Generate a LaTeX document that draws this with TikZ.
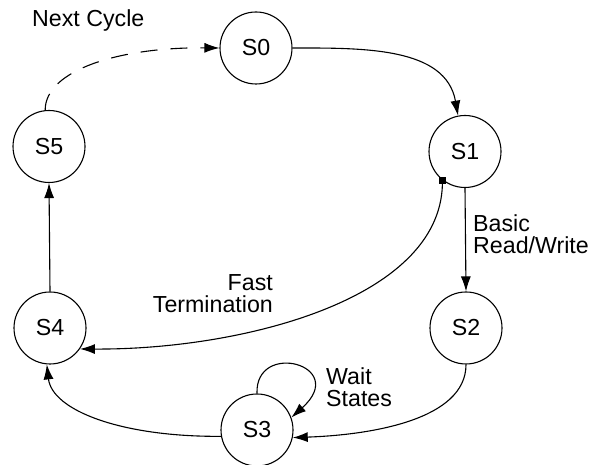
\documentclass[tikz,border=0pt]{standalone}
\usepackage{fontspec}
\setmainfont{Liberation Sans}
\usetikzlibrary{arrows.meta}
\begin{document}
\begin{tikzpicture}[x=1pt,y=1pt,
  state/.style={circle,draw,line width=1.1pt,minimum size=72pt,inner sep=0pt},
  arr/.style={line width=1.1pt,-{Latex[length=15pt,width=10pt]}},
  lbl/.style={inner sep=0pt},
  every node/.style={font=\fontsize{23.2}{22}\selectfont}]
\useasboundingbox (0,0) rectangle (592,465);
\node[state] (s0) at (256,417) {S0};
\node[state] (s1) at (465,313.5) {S1};
\node[state] (s2) at (466,137) {S2};
\node[state] (s3) at (257,35) {S3};
\node[state] (s4) at (50,137) {S4};
\node[state] (s5) at (49,318.5) {S5};
\node[fill,minimum size=7pt,inner sep=0pt] (sq) at (s1.232) {};
% edges
\draw[arr] (s0.east) to[out=0,in=100] (s1.101);
\draw[arr] (s1.south) -- (s2.north);
\draw[arr] (sq) .. controls (440,165) and (240,115) .. (s4.-35);
\draw[arr] (s2.south) .. controls (466,45) and (370,30) .. (s3.-12);
\draw[arr] (s3.190) .. controls (120,28) and (52,55) .. (s4.-95);
\draw[arr] (s4.north) -- (s5.south);
\draw[arr,dash pattern=on 17pt off 13pt] (s5.96) .. controls (45,395) and (120,418) .. (s0.west);
\draw[arr] (s3.90) .. controls (255,125) and (350,100) .. (s3.20);
% labels
\node[lbl,anchor=base west] (nc) at (32,438) {Next Cycle};
\node[lbl,anchor=base west,align=left] (brw) at (473,211) {Basic\\Read/Write};
\node[lbl,anchor=base east,align=right] (ft) at (273,152) {Fast\\Termination};
\node[lbl,anchor=base west,align=left] (ws) at (326,58) {Wait\\States};
\end{tikzpicture}
\end{document}
